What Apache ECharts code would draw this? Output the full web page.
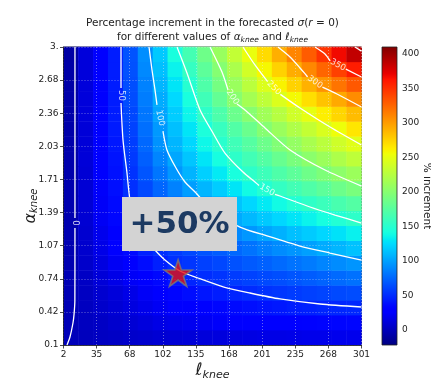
<!DOCTYPE html>
<html>
<head>
<meta charset="utf-8">
<script src="https://cdn.jsdelivr.net/npm/echarts@6.0.0/dist/echarts.min.js"></script>
<style>
html,body{margin:0;padding:0;background:#ffffff;}
#chart{width:431px;height:381px;}
</style>
</head>
<body>
<div id="chart"></div>
<script>
// ---------- data ----------
// cell centres of the sampled field
const lCells = [9.5, 24.4, 39.4, 54.3, 69.3, 84.2, 99.2, 114.1, 129.1, 144.0, 159.0, 173.9, 188.9, 203.8, 218.8, 233.7, 248.7, 263.6, 278.6, 293.5];
const aCells = [0.17, 0.32, 0.46, 0.61, 0.75, 0.90, 1.04, 1.19, 1.33, 1.48, 1.62, 1.77, 1.91, 2.06, 2.20, 2.35, 2.49, 2.64, 2.78, 2.93];
// % increment, one row per alpha cell (bottom row first), one value per ell cell
const fieldRows = [
  [0, 1, 3, 4, 6, 7, 9, 10, 11, 12, 13, 14, 15, 16, 16, 17, 18, 18, 19, 19],
  [-1, 2, 4, 7, 10, 13, 16, 18, 20, 22, 24, 25, 27, 28, 29, 30, 31, 32, 33, 34],
  [-2, 2, 6, 10, 14, 18, 22, 26, 29, 31, 34, 36, 38, 40, 42, 44, 45, 47, 48, 49],
  [-2, 3, 8, 12, 17, 23, 28, 33, 37, 41, 44, 47, 50, 53, 55, 57, 59, 61, 63, 64],
  [-2, 4, 11, 17, 23, 29, 35, 41, 47, 51, 54, 57, 60, 63, 65, 68, 71, 74, 77, 80],
  [-3, 6, 14, 22, 30, 37, 45, 52, 55, 59, 62, 66, 70, 73, 77, 81, 84, 88, 91, 95],
  [-3, 7, 17, 26, 36, 45, 52, 57, 62, 67, 71, 76, 81, 86, 91, 95, 100, 105, 109, 114],
  [-3, 8, 19, 30, 41, 51, 58, 64, 71, 77, 83, 90, 96, 102, 107, 113, 118, 123, 128, 134],
  [-4, 9, 22, 34, 46, 56, 64, 73, 81, 89, 98, 104, 110, 117, 123, 129, 135, 141, 147, 153],
  [-4, 10, 23, 36, 50, 60, 70, 80, 90, 99, 107, 115, 123, 131, 139, 147, 154, 160, 167, 173],
  [-4, 10, 24, 38, 52, 63, 75, 87, 99, 109, 119, 129, 139, 148, 156, 164, 171, 178, 186, 193],
  [-5, 10, 25, 39, 53, 68, 82, 96, 108, 120, 131, 142, 153, 161, 170, 178, 187, 195, 203, 211],
  [-5, 11, 26, 40, 56, 72, 88, 103, 116, 129, 141, 153, 163, 173, 183, 193, 202, 211, 220, 229],
  [-5, 11, 27, 42, 58, 76, 94, 109, 123, 137, 151, 162, 174, 186, 197, 207, 217, 227, 237, 247],
  [-6, 11, 27, 43, 60, 79, 97, 113, 129, 144, 158, 172, 185, 199, 210, 221, 232, 243, 254, 266],
  [-6, 12, 28, 44, 62, 82, 102, 119, 136, 153, 169, 185, 200, 213, 225, 238, 250, 262, 273, 285],
  [-6, 12, 28, 44, 64, 85, 105, 124, 142, 162, 181, 201, 215, 229, 244, 257, 269, 282, 294, 307],
  [-7, 12, 28, 44, 65, 87, 109, 129, 149, 170, 191, 210, 227, 244, 260, 275, 290, 304, 318, 331],
  [-7, 12, 28, 44, 66, 90, 113, 135, 157, 178, 199, 219, 239, 258, 275, 292, 309, 325, 342, 358],
  [-8, 12, 28, 44, 67, 92, 117, 142, 165, 187, 209, 231, 252, 271, 291, 310, 329, 348, 367, 385]
];
const valueMin = -22;
const valueMax = 410;

const xTickLabels = ['2', '35', '68', '102', '135', '168', '201', '235', '268', '301'];
const yTickLabels = ['0.1', '0.42', '0.74', '1.07', '1.39', '1.71', '2.03', '2.36', '2.68', '3.'];
const cbarTicks = [0, 50, 100, 150, 200, 250, 300, 350, 400];

// contour lines [ell, alpha]; null = gap left for the inline label
const contour0 = [[13.5, 3.0], [13.5, 1.336], null, [13.5, 1.239], [13.4, 0.53], [12.6, 0.40], [11.5, 0.314], [8.5, 0.178], [5.5, 0.1]];
const contour50 = [[59.7, 3.0], [59.7, 2.60], null, [59.7, 2.455], [61.7, 2.095], [65.7, 1.774], [68.7, 1.511], [74.7, 1.297], [83.8, 1.141], [93.8, 1.024], [103.8, 0.927], [118.9, 0.820], [136.9, 0.752], [163.0, 0.664], [189.1, 0.606], [219.2, 0.548], [259.4, 0.499], [301, 0.470]];
const contour100 = [[87.8, 3.0], [90.8, 2.776], [93.8, 2.582], [95.8, 2.436], null, [101.8, 2.18], [105.8, 1.998], [114.9, 1.822], [123.9, 1.686], [134.0, 1.589], [154.0, 1.384], [179.1, 1.248], [206.2, 1.161], [239.3, 1.063], [269.4, 0.995], [301, 0.927]];
const contour150 = [[115.9, 3.0], [125.9, 2.747], [139.0, 2.387], [152.0, 2.163], [164.0, 1.968], [182.1, 1.783], [194.1, 1.686], [198.2, 1.652], null, [214.2, 1.565], [219.2, 1.550], [249.3, 1.443], [274.4, 1.365], [301, 1.287]];
const contour200 = [[149.0, 3.0], [161.0, 2.757], [167.1, 2.582], null, [176.1, 2.445], [184.1, 2.387], [204.2, 2.212], [229.3, 1.998], [264.4, 1.803], [301, 1.647]];
const contour250 = [[182.1, 3.0], [194.1, 2.825], [206.8, 2.663], null, [219.6, 2.539], [239.3, 2.406], [269.4, 2.221], [301, 2.046]];
const contour300 = [[217.2, 3.0], [229.3, 2.903], [239.3, 2.796], [246.9, 2.71], null, [261.8, 2.609], [276.4, 2.543], [301, 2.416]];
const contour350 = [[254.3, 3.0], [264.4, 2.932], [269.5, 2.866], null, [285.3, 2.784], [301, 2.708]];
const contour400 = [[294.5, 3.0], [301, 2.96]];
const contours = [contour0, contour50, contour100, contour150, contour200, contour250, contour300, contour350, contour400];

const contourLabelText = ['0', '50', '100', '150', '200', '250', '300', '350'];
const contourLabelL = [13.5, 59.7, 98.8, 206.2, 171.6, 213.2, 254.3, 277.4];
const contourLabelA = [1.287, 2.528, 2.309, 1.608, 2.513, 2.601, 2.659, 2.825];
const contourLabelAngle = [-90, -90, -78, -30, -57, -45, -35, -28];

const starPoint = [[117, 0.80]];

// ---------- colour map (matplotlib "jet") ----------
function seg(pts, t) {
  for (let k = 1; k < pts.length; k++) {
    if (t <= pts[k][0]) {
      const x0 = pts[k - 1][0], y0 = pts[k - 1][1], x1 = pts[k][0], y1 = pts[k][1];
      return y0 + (y1 - y0) * (t - x0) / (x1 - x0);
    }
  }
  return pts[pts.length - 1][1];
}
const JR = [[0, 0], [0.35, 0], [0.66, 1], [0.89, 1], [1, 0.5]];
const JG = [[0, 0], [0.125, 0], [0.375, 1], [0.64, 1], [0.91, 0], [1, 0]];
const JB = [[0, 0.5], [0.11, 1], [0.34, 1], [0.65, 0], [1, 0]];
function jet(t) {
  const c = [JR, JG, JB].map(p => Math.round(255 * seg(p, t)));
  return 'rgb(' + c[0] + ',' + c[1] + ',' + c[2] + ')';
}
const jetColors = [];
for (let k = 0; k <= 100; k++) jetColors.push(jet(k / 100));
const cbarStops = [];
for (let k = 0; k <= 100; k++) cbarStops.push({ offset: k / 100, color: jet(1 - k / 100) });

// ---------- build ----------
const heatData = [];
fieldRows.forEach((row, j) => row.forEach((v, i) => heatData.push([i, j, v])));

const FONT = 'DejaVu Sans';
const TXT = '#222222';
const xStep = 33.22223;   // (301-2)/9, nudged so the last tick lands on max
const yStep = 0.3222223;  // (3-0.1)/9

const starPath = 'path://M50 0 L61.23 34.55 L97.55 34.55 L68.17 55.9 L79.39 90.45 L50 69.1 L20.61 90.45 L31.83 55.9 L2.45 34.55 L38.77 34.55 Z';

const series = [{
  type: 'heatmap',
  xAxisIndex: 0, yAxisIndex: 0,
  data: heatData,
  silent: true,
  progressive: 0,
  emphasis: { disabled: true },
  itemStyle: { borderWidth: 0 }
}];
contours.forEach(c => {
  series.push({
    type: 'line',
    xAxisIndex: 1, yAxisIndex: 1,
    data: c.map(p => p ? p : ['-', '-']),
    showSymbol: false, symbol: 'none',
    connectNulls: false,
    smooth: 0.25,
    silent: true,
    z: 4,
    lineStyle: { color: '#ffffff', width: 1.3 }
  });
});
series.push({
  type: 'scatter',
  xAxisIndex: 1, yAxisIndex: 1,
  symbol: 'circle',
  symbolSize: 1,
  itemStyle: { color: 'rgba(0,0,0,0)' },
  silent: true,
  z: 5,
  data: contourLabelText.map((t, k) => ({
    name: t,
    value: [contourLabelL[k], contourLabelA[k]],
    label: { rotate: contourLabelAngle[k] }
  })),
  label: {
    show: true, position: 'inside', formatter: p => p.name,
    color: '#ffffff', fontSize: 8.5, fontFamily: FONT
  }
});
series.push({
  type: 'scatter',
  xAxisIndex: 1, yAxisIndex: 1,
  data: starPoint,
  symbol: starPath,
  symbolKeepAspect: true,
  symbolSize: 28,
  silent: true,
  z: 20,
  zlevel: 1,
  itemStyle: { color: '#e8120c', borderColor: '#7a7a7a', borderWidth: 1.6 }
});

const option = {
  animation: false,
  backgroundColor: '#ffffff',
  textStyle: { fontFamily: FONT },
  grid: [
    { left: 63.5, top: 47, width: 298, height: 298, show: true, backgroundColor: 'transparent', borderColor: '#222', borderWidth: 0.8, containLabel: false, outerBoundsMode: 'none' },
    { left: 382, top: 47, width: 15, height: 298, show: false, containLabel: false, outerBoundsMode: 'none' }
  ],
  visualMap: {
    type: 'continuous', show: false, min: valueMin, max: valueMax,
    dimension: 2, seriesIndex: 0, inRange: { color: jetColors }
  },
  xAxis: [
    { type: 'category', gridIndex: 0, data: lCells.map(String), show: false, boundaryGap: true },
    {
      type: 'value', gridIndex: 0, position: 'bottom', min: 2, max: 301, interval: xStep, z: 3,
      axisLine: { show: true, lineStyle: { color: '#222', width: 0.8 } },
      axisTick: { show: true, length: 3.5, lineStyle: { color: '#222', width: 0.8 } },
      axisLabel: { color: TXT, fontSize: 9, margin: 5, fontFamily: FONT,
        formatter: v => xTickLabels[Math.round((v - 2) / (299 / 9))] },
      splitLine: { show: true, lineStyle: { color: 'rgba(235,235,235,0.55)', width: 0.8, type: [1, 2] } },
      name: '{m|ℓ}{s|knee}', nameLocation: 'middle', nameGap: 16, nameMoveOverlap: false,
      nameTextStyle: {
        color: TXT, fontFamily: FONT, fontSize: 16, lineHeight: 20,
        rich: {
          m: { fontSize: 17, fontStyle: 'italic', fontFamily: FONT, color: TXT, lineHeight: 20 },
          s: { fontSize: 11, fontStyle: 'italic', fontFamily: FONT, color: TXT, lineHeight: 11, verticalAlign: 'bottom' }
        }
      }
    },
    { type: 'value', gridIndex: 1, show: false, min: 0, max: 1 }
  ],
  yAxis: [
    { type: 'category', gridIndex: 0, data: aCells.map(String), show: false, boundaryGap: true },
    {
      type: 'value', gridIndex: 0, position: 'left', min: 0.1, max: 3.0, interval: yStep, z: 3,
      axisLine: { show: true, lineStyle: { color: '#222', width: 0.8 } },
      axisTick: { show: true, length: 3.5, lineStyle: { color: '#222', width: 0.8 } },
      axisLabel: { color: TXT, fontSize: 9, margin: 5, fontFamily: FONT,
        formatter: v => yTickLabels[Math.round((v - 0.1) / (2.9 / 9))] },
      splitLine: { show: true, lineStyle: { color: 'rgba(235,235,235,0.55)', width: 0.8, type: [1, 2] } },
      name: '{m|α}{s|knee}', nameLocation: 'middle', nameGap: 24, nameRotate: 90, nameMoveOverlap: false,
      nameTextStyle: {
        color: TXT, fontFamily: FONT, fontSize: 15, lineHeight: 18, padding: [0, 20, 0, 0],
        rich: {
          m: { fontSize: 16, fontStyle: 'italic', fontFamily: FONT, color: TXT, lineHeight: 18 },
          s: { fontSize: 10, fontStyle: 'italic', fontFamily: FONT, color: TXT, lineHeight: 10, verticalAlign: 'bottom' }
        }
      }
    },
    {
      type: 'value', gridIndex: 1, position: 'right', min: valueMin, max: valueMax,
      axisLine: { show: false },
      axisTick: { show: true, length: 3.5, customValues: cbarTicks, lineStyle: { color: '#222', width: 0.8 } },
      axisLabel: { show: true, customValues: cbarTicks, color: TXT, fontSize: 9, margin: 5, fontFamily: FONT },
      splitLine: { show: false }
    }
  ],
  graphic: [
    { type: 'rect', z: 1, shape: { x: 382, y: 47, width: 15, height: 298 },
      style: { fill: { type: 'linear', x: 0, y: 0, x2: 0, y2: 1, colorStops: cbarStops }, stroke: '#222', lineWidth: 0.8 } },
    { type: 'text', z: 10, x: 212.5, y: 23,
      style: { text: 'Percentage increment in the forecasted {i|σ}({i|r} = 0)', fill: TXT, fontSize: 10.5, fontFamily: FONT,
        align: 'center', verticalAlign: 'middle', lineHeight: 14,
        rich: { i: { fontStyle: 'italic', fontSize: 10.5, fontFamily: FONT, fill: TXT, lineHeight: 14 } } } },
    { type: 'text', z: 10, x: 212.5, y: 37,
      style: { text: 'for different values of {i|α}{s|knee} and {i|ℓ}{s|knee}', fill: TXT, fontSize: 10.5, fontFamily: FONT,
        align: 'center', verticalAlign: 'middle', lineHeight: 14,
        rich: {
          i: { fontStyle: 'italic', fontSize: 10.5, fontFamily: FONT, fill: TXT, lineHeight: 14 },
          s: { fontStyle: 'italic', fontSize: 7.5, fontFamily: FONT, fill: TXT, lineHeight: 9, verticalAlign: 'bottom' }
        } } },
    { type: 'rect', z: 30, zlevel: 1, shape: { x: 122, y: 197, width: 115, height: 54 },
      style: { fill: '#d3d3d3' } },
    { type: 'text', z: 31, zlevel: 1, x: 179.5, y: 225,
      style: { text: '+50%', fill: '#1c3a62', fontSize: 31, fontWeight: 'bold', fontFamily: FONT,
        align: 'center', verticalAlign: 'middle' } },
    { type: 'text', z: 10, x: 427, y: 196, rotation: -Math.PI / 2,
      style: { text: '% increment', fill: TXT, fontSize: 10.5, fontFamily: FONT, align: 'center', verticalAlign: 'middle' } }
  ],
  series: series
};

const chart = echarts.init(document.getElementById('chart'), null, { renderer: 'canvas', width: 431, height: 381 });
chart.setOption(option);
</script>
</body>
</html>
